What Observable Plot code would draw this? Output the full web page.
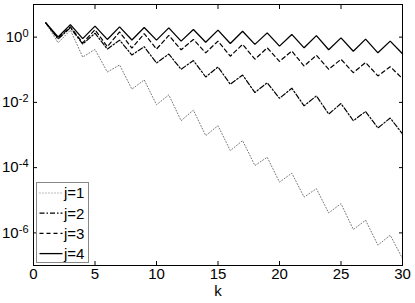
<!DOCTYPE html>
<html><head><meta charset="utf-8">
<script src="https://cdn.jsdelivr.net/npm/d3@7"></script>
<script src="https://cdn.jsdelivr.net/npm/@observablehq/plot@0.6"></script>
<style>
body{margin:0;background:#fff;}
#chart{position:relative;width:415px;height:303px;font-family:"Liberation Sans",Arial,sans-serif;}
</style>
</head><body><div id="chart"></div>
<script>
const k = [1,2,3,4,5,6,7,8,9,10,11,12,13,14,15,16,17,18,19,20,21,22,23,24,25,26,27,28,29,30];
const j1 = [2.73,0.67,1.64,0.245,0.42,0.0855,0.140,0.0254,0.0488,0.00843,0.0170,0.00274,0.00581,0.000955,0.00193,0.000333,0.000672,0.000116,0.000208,3.59e-5,6.76e-5,1.25e-5,2.26e-5,4.07e-6,7.87e-6,1.27e-6,2.44e-6,4.21e-7,8.49e-7,1.65e-7];
const j2 = [2.73,0.87,1.95,0.61,1.32,0.43,0.81,0.282,0.51,0.161,0.303,0.103,0.192,0.060,0.122,0.036,0.069,0.020,0.040,0.0133,0.0272,0.00785,0.0158,0.00438,0.00923,0.00274,0.00526,0.00164,0.00331,0.00108];
const j3 = [2.73,0.93,2.09,0.66,1.69,0.51,1.44,0.46,1.28,0.43,1.13,0.41,0.85,0.33,0.755,0.26,0.60,0.21,0.47,0.18,0.374,0.13,0.277,0.103,0.209,0.0814,0.167,0.0646,0.124,0.0535];
const j4 = [2.73,1.01,2.41,0.90,2.17,0.85,2.06,0.82,1.98,0.81,1.92,0.755,1.72,0.70,1.64,0.64,1.52,0.60,1.35,0.53,1.21,0.47,1.11,0.41,0.95,0.37,0.87,0.33,0.755,0.31];
const seriesNames = ["j=1","j=2","j=3","j=4"];
const seriesValues = [j1,j2,j3,j4];
const xTicks = [0,5,10,15,20,25,30];
const yTicks = [1,1e-2,1e-4,1e-6];

const styles = {
  "j=1": {stroke:"#777", dash:"1,2", width:1},
  "j=2": {stroke:"#000", dash:"5,2,1.5,2", width:1.2},
  "j=3": {stroke:"#000", dash:"4,3", width:1.2},
  "j=4": {stroke:"#000", dash:null, width:1.3}
};

const rows = [];
seriesNames.forEach((name,i)=>k.forEach((kk,t)=>rows.push({k:kk, v:seriesValues[i][t], j:name})));

const lineMarks = seriesNames.map(name => Plot.line(rows.filter(d=>d.j===name), {
  x:"k", y:"v", stroke: styles[name].stroke, strokeWidth: styles[name].width,
  strokeDasharray: styles[name].dash || undefined, strokeLinejoin:"miter"
}));

const chart = Plot.plot({
  width:415, height:303,
  marginLeft:33, marginRight:13, marginTop:4, marginBottom:38,
  style:{fontFamily:'"Liberation Sans", Arial, sans-serif', fontSize:"15px", background:"#fff", color:"#000"},
  x:{domain:[0,30]},
  y:{type:"log", domain:[1e-7,10]},
  marks:[
    ...lineMarks,
    Plot.frame({stroke:"#000"}),
    Plot.axisX({anchor:"bottom", ticks:xTicks, tickSize:-4, tickPadding:7, tickFormat:d=>String(d),
      label:"k", labelAnchor:"center", labelArrow:"none", labelOffset:30}),
    Plot.axisX({anchor:"top", ticks:xTicks, tickSize:-4, fill:"none", label:null}),
    Plot.axisY({anchor:"left", ticks:yTicks, tickSize:-4, tickPadding:9,
      tickFormat:d=>"10^"+Math.round(Math.log10(d)), label:null}),
    Plot.axisY({anchor:"right", ticks:yTicks, tickSize:-4, fill:"none", label:null})
  ]
});
document.getElementById("chart").appendChild(chart);

// superscript exponents
d3.select(chart).selectAll("text").each(function(){
  const t = d3.select(this);
  const s = this.textContent;
  if (s.startsWith("10^")) {
    const e = s.slice(3);
    t.text("");
    t.append("tspan").text("10");
    t.append("tspan").attr("dy","-0.45em").attr("font-size","11px").text(e);
  }
});

// legend
const svg = d3.select(chart);
const lg = svg.append("g").attr("transform","translate(36.5,182.5)");
lg.append("rect").attr("width",52).attr("height",80).attr("fill","#fff").attr("stroke","#888").attr("stroke-width",1);
seriesNames.forEach((name,i)=>{
  const y = 10.5 + i*20.2;
  lg.append("line").attr("x1",3).attr("x2",26).attr("y1",y).attr("y2",y)
    .attr("stroke",styles[name].stroke).attr("stroke-width",styles[name].width)
    .attr("stroke-dasharray",styles[name].dash);
  lg.append("text").attr("x",27.5).attr("y",y).attr("dy","0.36em")
    .attr("text-anchor","start")
    .attr("font-size","15px").attr("fill","#000").text(name);
});
</script>
</body></html>
